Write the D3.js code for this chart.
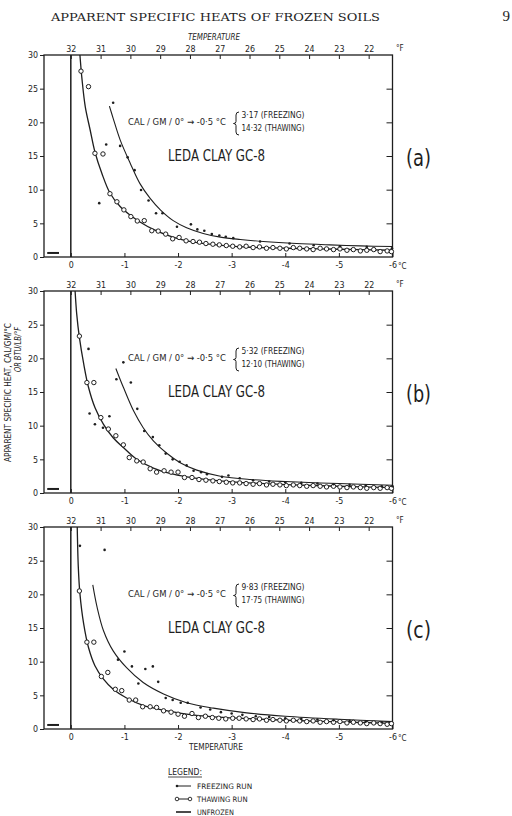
<!DOCTYPE html>
<html><head><meta charset="utf-8">
<script src="https://cdn.jsdelivr.net/npm/d3@7"></script>
<style>body{margin:0;background:#fff}svg{display:block}</style>
</head><body>
<svg id="chart" width="512" height="816"></svg>
<script>
// ---------- data ----------
const yTicks = [0,5,10,15,20,25,30];
const cTicks = [0,-1,-2,-3,-4,-5,-6];
const fTicks = [32,31,30,29,28,27,26,25,24,23,22];
const panelLabels = ["(a)","(b)","(c)"];
const freezingValues = ["3·17","5·32","9·83"];
const thawingValues = ["14·32","12·10","17·75"];
const unfrozen = [[0.44,0.6],[0.22,0.6]];

const thawA = [[-0.19,27.6],[-0.33,25.3],[-0.45,15.4],[-0.60,15.3],[-0.73,9.4],[-0.86,8.2],[-0.99,7.0],[-1.12,6.0],[-1.24,5.35],[-1.37,5.4],[-1.51,3.9],[-1.63,3.85],[-1.77,3.4],[-1.90,2.7],[-2.02,2.9],[-2.15,2.4],[-2.28,2.3],[-2.40,2.2],[-2.52,2.0],[-2.65,1.9],[-2.77,1.8],[-2.90,1.7],[-3.02,1.6],[-3.15,1.5],[-3.27,1.6],[-3.40,1.4],[-3.52,1.5],[-3.65,1.3],[-3.77,1.4],[-3.90,1.3],[-4.02,1.2],[-4.15,1.4],[-4.27,1.3],[-4.40,1.2],[-4.52,1.1],[-4.65,1.3],[-4.77,1.2],[-4.90,1.1],[-5.02,1.2],[-5.15,1.0],[-5.27,1.1],[-5.40,0.9],[-5.52,1.0],[-5.65,1.1],[-5.77,0.8],[-5.90,0.9],[-5.98,0.8]];
const freezeA = [[-0.53,8.0],[-0.66,16.7],[-0.79,22.9],[-0.92,16.5],[-1.06,14.8],[-1.19,12.9],[-1.31,9.95],[-1.45,8.4],[-1.59,6.5],[-1.71,6.5],[-1.98,4.5],[-2.24,4.85],[-2.36,4.1],[-2.49,3.9],[-2.63,3.4],[-2.77,3.2],[-2.89,3.0],[-3.03,2.8],[-3.53,2.3],[-4.08,2.0],[-4.53,1.75],[-5.02,1.6],[-5.52,1.5],[-5.99,1.3]];
const freezeCurveA = [[-0.72,22.4],[-0.79,20.6],[-0.92,17.4],[-1.11,13.9],[-1.29,10.9],[-1.48,8.7],[-1.67,7.0],[-1.91,5.4],[-2.16,4.35],[-2.47,3.5],[-2.79,2.95],[-3.16,2.6],[-3.59,2.3],[-4.21,2.0],[-4.83,1.8],[-5.4,1.65],[-6.0,1.55]];
const thawCurveA = [[-0.17,30],[-0.21,26.3],[-0.27,22.3],[-0.36,18.9],[-0.45,15.6],[-0.58,12.4],[-0.73,9.5],[-0.92,7.5],[-1.11,6.2],[-1.29,5.2],[-1.54,4.1],[-1.85,3.1],[-2.16,2.4],[-2.54,1.95],[-2.91,1.65],[-3.35,1.45],[-4.0,1.3],[-5.0,1.15],[-6.0,1.0]];

const thawB = [[-0.16,23.3],[-0.30,16.4],[-0.43,16.4],[-0.56,11.2],[-0.70,9.5],[-0.84,8.5],[-0.98,7.15],[-1.09,5.26],[-1.23,4.77],[-1.35,4.6],[-1.48,3.6],[-1.60,3.1],[-1.74,3.3],[-1.87,3.1],[-2.00,3.1],[-2.12,2.3],[-2.26,2.3],[-2.39,2.0],[-2.52,1.9],[-2.65,1.8],[-2.77,1.7],[-2.90,1.6],[-3.02,1.5],[-3.15,1.5],[-3.27,1.4],[-3.40,1.3],[-3.52,1.4],[-3.65,1.2],[-3.77,1.3],[-3.90,1.2],[-4.02,1.1],[-4.15,1.2],[-4.27,1.1],[-4.40,1.0],[-4.52,1.1],[-4.65,1.0],[-4.77,0.9],[-4.90,1.0],[-5.02,0.9],[-5.15,0.8],[-5.27,0.9],[-5.40,0.8],[-5.52,0.7],[-5.65,0.8],[-5.77,0.7],[-5.90,0.8],[-5.98,0.7]];
const freezeB = [[-0.33,21.4],[-0.35,11.8],[-0.45,10.2],[-0.60,9.7],[-0.72,11.4],[-0.85,16.9],[-0.98,19.4],[-1.12,16.4],[-1.24,12.5],[-1.37,9.2],[-1.53,8.3],[-1.65,7.1],[-1.77,5.85],[-1.90,5.0],[-2.03,4.65],[-2.16,4.1],[-2.29,3.3],[-2.43,3.1],[-2.54,2.8],[-2.82,2.4],[-2.94,2.6],[-3.15,2.2],[-3.4,1.9],[-3.7,1.7],[-4.0,1.6],[-4.3,1.5],[-4.6,1.4],[-4.9,1.3],[-5.2,1.2],[-5.5,1.1],[-5.8,1.0],[-6.0,1.0]];
const freezeCurveB = [[-0.84,18.5],[-0.98,15.7],[-1.17,12.2],[-1.35,9.7],[-1.54,7.75],[-1.79,5.9],[-2.04,4.5],[-2.35,3.4],[-2.79,2.5],[-3.35,2.0],[-4.0,1.7],[-5.0,1.4],[-6.0,1.15]];
const thawCurveB = [[-0.08,30],[-0.11,26.6],[-0.16,23.1],[-0.24,19.2],[-0.33,15.7],[-0.45,12.7],[-0.61,10.2],[-0.79,8.2],[-0.98,6.75],[-1.23,5.0],[-1.54,3.7],[-1.85,2.9],[-2.16,2.4],[-2.54,2.0],[-3.0,1.65],[-4.0,1.25],[-5.0,1.0],[-6.0,0.8]];

const thawC = [[-0.16,20.5],[-0.30,12.9],[-0.43,12.9],[-0.57,7.8],[-0.69,8.4],[-0.83,5.9],[-0.95,5.7],[-1.09,4.3],[-1.21,4.3],[-1.34,3.3],[-1.48,3.3],[-1.60,3.2],[-1.73,2.7],[-1.87,2.5],[-2.00,2.2],[-2.12,1.9],[-2.26,2.3],[-2.38,1.7],[-2.51,1.9],[-2.64,1.7],[-2.76,1.6],[-2.89,1.5],[-3.02,1.6],[-3.14,1.6],[-3.27,1.5],[-3.40,1.4],[-3.52,1.5],[-3.65,1.3],[-3.77,1.4],[-3.90,1.3],[-4.02,1.2],[-4.15,1.3],[-4.27,1.2],[-4.40,1.1],[-4.52,1.2],[-4.65,1.0],[-4.77,1.1],[-4.90,1.0],[-5.02,1.1],[-5.15,0.9],[-5.27,1.0],[-5.40,0.9],[-5.52,0.8],[-5.65,0.9],[-5.77,0.8],[-5.90,0.7],[-5.98,0.8]];
const freezeC = [[-0.17,27.2],[-0.63,26.6],[-0.88,10.3],[-1.00,11.5],[-1.14,9.3],[-1.26,6.75],[-1.39,8.9],[-1.53,9.3],[-1.63,7.0],[-1.77,4.6],[-1.90,4.3],[-2.05,3.9],[-2.18,3.9],[-2.42,3.2],[-2.6,2.9],[-2.8,2.5],[-3.0,2.3],[-3.2,2.1],[-3.45,1.9],[-3.7,1.8],[-4.0,1.6],[-4.3,1.5],[-4.6,1.4],[-4.9,1.3],[-5.2,1.2],[-5.5,1.1],[-5.8,1.0]];
const freezeCurveC = [[-0.41,21.4],[-0.49,18.1],[-0.61,14.6],[-0.79,11.6],[-1.04,9.1],[-1.35,6.9],[-1.73,5.2],[-2.16,3.9],[-2.66,3.1],[-3.28,2.4],[-4.0,1.9],[-5.0,1.45],[-6.0,1.1]];
const thawCurveC = [[-0.12,30],[-0.14,24],[-0.17,20.1],[-0.24,15.6],[-0.33,12.1],[-0.45,9.4],[-0.61,7.4],[-0.79,5.9],[-1.04,4.6],[-1.35,3.5],[-1.73,2.8],[-2.16,2.2],[-2.66,1.8],[-3.28,1.55],[-4.0,1.3],[-5.0,1.05],[-6.0,0.85]];

const thawPts = [thawA, thawB, thawC];
const freezePts = [freezeA, freezeB, freezeC];
const thawCurves = [thawCurveA, thawCurveB, thawCurveC];
const freezeCurves = [freezeCurveA, freezeCurveB, freezeCurveC];

// ---------- drawing ----------
const ink = "#1e1e1e";
const sans = "'DejaVu Sans Condensed','Liberation Sans Narrow','DejaVu Sans',sans-serif";
const svg = d3.select("#chart");
svg.append("rect").attr("width",512).attr("height",816).attr("fill","#fff");

const x = d3.scaleLinear().domain([0.5,-6]).range([44,392.5]);
const fx = d3.scaleLinear().domain([32,22]).range([x(0), x((22-32)*5/9)]);
const panelTops = [55,291,527];
const PH = 202;

// header
svg.append("text").attr("x",51).attr("y",21).attr("textLength",329).attr("lengthAdjust","spacingAndGlyphs")
  .attr("font-family","'DejaVu Serif','Liberation Serif',serif").attr("font-size",11.5).attr("fill",ink)
  .text("APPARENT SPECIFIC HEATS OF FROZEN SOILS");
svg.append("text").attr("x",510).attr("y",21).attr("text-anchor","end")
  .attr("font-family","'Liberation Serif',serif").attr("font-size",15).attr("fill",ink).text("9");
svg.append("text").attr("x",188).attr("y",40).attr("textLength",52).attr("lengthAdjust","spacingAndGlyphs")
  .attr("font-family",sans).attr("font-style","italic").attr("font-size",8).attr("fill",ink).text("TEMPERATURE");

const line = d3.line().x(d=>x(d[0])).curve(d3.curveCatmullRom.alpha(0.5));

panelTops.forEach((top,i)=>{
  const y = d3.scaleLinear().domain([0,30]).range([top+PH, top]);
  line.y(d=>y(d[1]));
  const g = svg.append("g");
  // frame
  g.append("rect").attr("x",x(0.5)).attr("y",y(30)).attr("width",x(-6)-x(0.5)).attr("height",y(0)-y(30))
    .attr("fill","none").attr("stroke",ink).attr("stroke-width",1.3);
  const la = g.append("g").attr("transform",`translate(${x(0.5)},0)`)
    .call(d3.axisLeft(y).tickValues(yTicks).tickSize(4).tickPadding(2));
  const ra = g.append("g").attr("transform",`translate(${x(-6)},0)`)
    .call(d3.axisRight(y).tickValues(yTicks.slice(1,-1)).tickSize(-6).tickFormat(""));
  const ta = g.append("g").attr("transform",`translate(0,${y(30)})`)
    .call(d3.axisTop(fx).tickValues(fTicks).tickSize(-4).tickPadding(3).tickFormat(d3.format("d")));
  const ba = g.append("g").attr("transform",`translate(0,${y(0)})`)
    .call(d3.axisBottom(x).tickValues(cTicks).tickSize(-4).tickPadding(5).tickFormat(d=>d===0?"0":String(d)));
  [la,ra,ta,ba].forEach(a=>{
    a.select(".domain").remove();
    a.selectAll("line").attr("stroke",ink).attr("stroke-width",1);
    a.selectAll("text").attr("font-family",sans).attr("font-size",8.8).attr("fill",ink);
  });
  g.append("text").attr("x",396).attr("y",y(30)-4).attr("font-family",sans).attr("font-size",8).attr("fill",ink).text("°F");
  g.append("text").attr("x",398).attr("y",y(0)+12).attr("font-family",sans).attr("font-size",8).attr("fill",ink).text("°C");

  g.append("line").attr("x1",x(0)).attr("x2",x(0)).attr("y1",y(30)).attr("y2",y(0))
    .attr("stroke",ink).attr("stroke-width",1.5);
  g.append("path").attr("d",d3.line().x(d=>x(d[0])).y(d=>y(d[1]))(unfrozen))
    .attr("stroke",ink).attr("stroke-width",2).attr("fill","none");

  g.append("path").attr("d",line(thawCurves[i])).attr("fill","none").attr("stroke",ink).attr("stroke-width",1.3);
  g.append("path").attr("d",line(freezeCurves[i])).attr("fill","none").attr("stroke",ink).attr("stroke-width",1.1);

  g.selectAll(".th").data(thawPts[i]).join("circle")
    .attr("cx",d=>x(d[0])).attr("cy",d=>y(d[1])).attr("r",2.2)
    .attr("fill","#fff").attr("stroke",ink).attr("stroke-width",1);
  g.selectAll(".fr").data(freezePts[i]).join("circle")
    .attr("cx",d=>x(d[0])).attr("cy",d=>y(d[1])).attr("r",1.3).attr("fill",ink);

  // annotation
  g.append("text").attr("x",128).attr("y",top+70).attr("textLength",98).attr("lengthAdjust","spacingAndGlyphs")
    .attr("font-family",sans).attr("font-size",9.5).attr("fill",ink).text("CAL / GM / 0° → -0·5 °C");
  // brace
  const bx = 236, b0 = top+57, b1 = top+80, bm = (b0+b1)/2;
  const p = d3.path();
  p.moveTo(bx+3,b0); p.quadraticCurveTo(bx,b0,bx,b0+3); p.lineTo(bx,bm-2);
  p.quadraticCurveTo(bx,bm,bx-2.5,bm); p.quadraticCurveTo(bx,bm,bx,bm+2);
  p.lineTo(bx,b1-3); p.quadraticCurveTo(bx,b1,bx+3,b1);
  g.append("path").attr("d",p.toString()).attr("fill","none").attr("stroke",ink).attr("stroke-width",1);
  g.append("text").attr("x",241.5).attr("y",top+63).attr("textLength",63).attr("lengthAdjust","spacingAndGlyphs")
    .attr("font-family",sans).attr("font-size",8).attr("fill",ink).text(freezingValues[i]+" (FREEZING)");
  g.append("text").attr("x",241.5).attr("y",top+76).attr("textLength",63).attr("lengthAdjust","spacingAndGlyphs")
    .attr("font-family",sans).attr("font-size",8).attr("fill",ink).text(thawingValues[i]+" (THAWING)");
  g.append("text").attr("x",168).attr("y",top+106).attr("textLength",97).attr("lengthAdjust","spacingAndGlyphs")
    .attr("font-family",sans).attr("font-size",15).attr("fill",ink).text("LEDA CLAY GC-8");
  g.append("text").attr("x",406).attr("y",top+111).attr("textLength",25).attr("lengthAdjust","spacingAndGlyphs")
    .attr("font-family",sans).attr("font-size",23).attr("fill",ink).text(panelLabels[i]);
});

// y-axis title
svg.append("text").attr("transform","translate(11,462) rotate(-90)").attr("textLength",139).attr("lengthAdjust","spacingAndGlyphs")
  .attr("font-family",sans).attr("font-size",8).attr("fill",ink).text("APPARENT SPECIFIC HEAT, CAL/GM/°C");
svg.append("text").attr("transform","translate(21,372) rotate(-90)").attr("textLength",45).attr("lengthAdjust","spacingAndGlyphs")
  .attr("font-family",sans).attr("font-style","italic").attr("font-size",8).attr("fill",ink).text("OR BTU/LB/°F");

// x-axis title
svg.append("text").attr("x",189).attr("y",750).attr("textLength",54).attr("lengthAdjust","spacingAndGlyphs")
  .attr("font-family",sans).attr("font-size",8).attr("fill",ink).text("TEMPERATURE");

// legend
const lg = svg.append("g");
lg.append("text").attr("x",168).attr("y",775).attr("textLength",34).attr("lengthAdjust","spacingAndGlyphs")
  .attr("font-family",sans).attr("font-size",8).attr("fill",ink).text("LEGEND:");
lg.append("line").attr("x1",168).attr("x2",202).attr("y1",777).attr("y2",777).attr("stroke",ink).attr("stroke-width",0.8);
const legendItems = ["FREEZING RUN","THAWING RUN","UNFROZEN"];
legendItems.forEach((t,k)=>{
  const yy = 789 + k*13;
  lg.append("line").attr("x1",176).attr("x2",191).attr("y1",yy-3).attr("y2",yy-3).attr("stroke",ink).attr("stroke-width",k===2?1.6:1);
  if(k===0){ lg.append("circle").attr("cx",177).attr("cy",yy-3).attr("r",1.3).attr("fill",ink); }
  if(k===1){ [177,190].forEach(cx=>lg.append("circle").attr("cx",cx).attr("cy",yy-3).attr("r",1.8).attr("fill","#fff").attr("stroke",ink).attr("stroke-width",0.9)); }
  lg.append("text").attr("x",197).attr("y",yy).attr("font-family",sans).attr("font-size",7.5).attr("fill",ink)
    .attr("textLength",t.length*4.6).attr("lengthAdjust","spacingAndGlyphs").text(t);
});
</script>
</body></html>
